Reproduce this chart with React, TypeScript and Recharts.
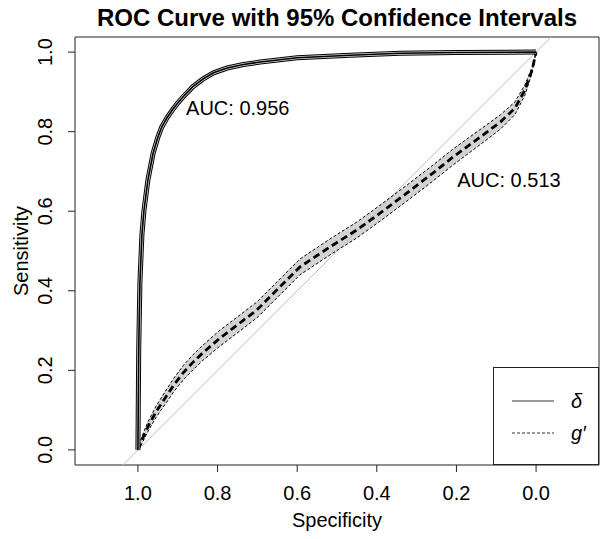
import React from "react"
import {
  ComposedChart,
  Line,
  Area,
  XAxis,
  YAxis,
  ReferenceLine,
  ReferenceArea,
  ReferenceDot,
  Label,
} from "recharts"

// axis setup (specificity runs 1 -> 0)
const SPEC_TICKS = [1, 0.8, 0.6, 0.4, 0.2, 0]
const SENS_TICKS = [0, 0.2, 0.4, 0.6, 0.8, 1]
const X_DOMAIN = [-0.158, 1.158]
const Y_DOMAIN = [-0.038, 1.038]

// delta: AUC 0.956
const DELTA_SPEC = [1.0, 0.998, 0.995, 0.99, 0.985, 0.975, 0.962, 0.95, 0.94, 0.927, 0.913, 0.9, 0.887, 0.862, 0.837, 0.81, 0.776, 0.735, 0.693, 0.6, 0.467, 0.342, 0.2, 0.0]
const DELTA_SENS = [0, 0.25, 0.42, 0.54, 0.6, 0.678, 0.745, 0.786, 0.812, 0.835, 0.855, 0.872, 0.887, 0.913, 0.932, 0.948, 0.96, 0.969, 0.975, 0.986, 0.992, 0.997, 0.999, 1.0]

// g': AUC 0.513, with 95% CI band
const G_SPEC = [1.0, 0.995, 0.985, 0.975, 0.955, 0.932, 0.91, 0.887, 0.862, 0.837, 0.794, 0.744, 0.701, 0.643, 0.593, 0.518, 0.45, 0.392, 0.324, 0.259, 0.209, 0.141, 0.09, 0.053, 0.028, 0.01, 0]
const G_SENS = [0, 0.012, 0.036, 0.058, 0.095, 0.13, 0.163, 0.193, 0.22, 0.244, 0.281, 0.319, 0.352, 0.41, 0.46, 0.51, 0.553, 0.595, 0.646, 0.696, 0.736, 0.786, 0.824, 0.859, 0.905, 0.955, 1.0]
const G_LO = [0, 0.006, 0.026, 0.046, 0.081, 0.114, 0.146, 0.175, 0.201, 0.225, 0.261, 0.299, 0.332, 0.39, 0.44, 0.49, 0.533, 0.575, 0.626, 0.676, 0.716, 0.767, 0.806, 0.843, 0.892, 0.948, 1.0]
const G_HI = [0, 0.018, 0.046, 0.07, 0.109, 0.146, 0.18, 0.211, 0.239, 0.263, 0.301, 0.339, 0.372, 0.43, 0.48, 0.53, 0.573, 0.615, 0.666, 0.716, 0.756, 0.805, 0.842, 0.875, 0.918, 0.962, 1.0]

const AUC_LABELS = [
  { spec: 0.879, sens: 0.859, text: "AUC: 0.956" },
  { spec: 0.198, sens: 0.678, text: "AUC: 0.513" },
]

const LEGEND_ITEMS = [
  { label: "δ", dash: undefined },
  { label: "g′", dash: "3 2" },
]

const FONT = "'Liberation Sans', Arial, Helvetica, sans-serif"

const deltaData = DELTA_SPEC.map((spec, i) => ({ spec, sens: DELTA_SENS[i] }))
const gData = G_SPEC.map((spec, i) => ({ spec, sens: G_SENS[i], lo: G_LO[i], hi: G_HI[i] }))

const XTick = ({ x, y, payload }: any) => (
  <text x={x} y={y + 26} textAnchor="middle" fontSize={20} fontFamily={FONT} fill="#000">
    {payload.value.toFixed(1)}
  </text>
)

const YTick = ({ x, y, payload }: any) => {
  const bx = x - 14
  return (
    <text x={bx} y={y} transform={`rotate(-90 ${bx} ${y})`} textAnchor="middle" fontSize={20} fontFamily={FONT} fill="#000">
      {payload.value.toFixed(1)}
    </text>
  )
}

const aucLabel = (text: string) => (props: any) => {
  const { viewBox } = props
  return (
    <text x={viewBox.x} y={viewBox.y + 7} fontSize={20} fontFamily={FONT} fill="#000">
      {text}
    </text>
  )
}

const LegendBox = () => (
  <svg width={106} height={98} style={{ position: "absolute", left: 493, top: 367 }}>
    <rect x={0.5} y={0.5} width={105} height={97} fill="#fff" stroke="#222" />
    {LEGEND_ITEMS.map((item, i) => (
      <g key={item.label}>
        <line x1={19} x2={61} y1={34 + i * 32} y2={34 + i * 32} stroke="#333" strokeWidth={1} strokeDasharray={item.dash} />
        <text x={78} y={41 + i * 32} fontSize={20} fontStyle="italic" fontFamily={FONT} fill="#000">
          {item.label}
        </text>
      </g>
    ))}
  </svg>
)

export default function App() {
  return (
    <div style={{ position: "absolute", left: 0, top: 0, width: 615, height: 539, background: "#fff" }}>
      <div
        style={{
          position: "absolute",
          left: 75,
          width: 524,
          top: 4,
          textAlign: "center",
          fontFamily: FONT,
          fontWeight: "bold",
          fontSize: 24,
          lineHeight: "28px",
        }}
      >
        ROC Curve with 95% Confidence Intervals
      </div>
      <ComposedChart
        width={615}
        height={539}
        data={gData}
        margin={{ top: 37, right: 16, bottom: 0, left: 0 }}
      >
        <XAxis
          dataKey="spec"
          type="number"
          domain={X_DOMAIN}
          reversed
          allowDataOverflow
          ticks={SPEC_TICKS}
          interval={0}
          height={74}
          axisLine={false}
          tickSize={7}
          tickLine={{ stroke: "#222" }}
          tick={<XTick />}
        >
          <Label
            content={() => (
              <text x={337} y={527} textAnchor="middle" fontSize={20} fontFamily={FONT} fill="#000">
                Specificity
              </text>
            )}
          />
        </XAxis>
        <YAxis
          type="number"
          domain={Y_DOMAIN}
          allowDataOverflow
          ticks={SENS_TICKS}
          interval={0}
          width={75}
          axisLine={false}
          tickSize={7}
          tickLine={{ stroke: "#222" }}
          tick={<YTick />}
        >
          <Label
            content={() => (
              <text x={28} y={251} transform="rotate(-90 28 251)" textAnchor="middle" fontSize={20} fontFamily={FONT} fill="#000">
                Sensitivity
              </text>
            )}
          />
        </YAxis>

        <ReferenceLine
          segment={[
            { x: 1 - Y_DOMAIN[0], y: Y_DOMAIN[0] },
            { x: 1 - Y_DOMAIN[1], y: Y_DOMAIN[1] },
          ]}
          stroke="#bebebe"
          strokeWidth={1}
          ifOverflow="visible"
        />

        <Area
          type="linear"
          dataKey={(d: any) => [d.lo, d.hi]}
          fill="#d3d3d3"
          fillOpacity={1}
          stroke="none"
          isAnimationActive={false}
        />
        <Line type="linear" dataKey="lo" stroke="#000" strokeWidth={1} strokeDasharray="3 2" dot={false} activeDot={false} isAnimationActive={false} />
        <Line type="linear" dataKey="hi" stroke="#000" strokeWidth={1} strokeDasharray="3 2" dot={false} activeDot={false} isAnimationActive={false} />
        <Line type="linear" dataKey="sens" stroke="#000" strokeWidth={2.8} strokeDasharray="7 4" dot={false} activeDot={false} isAnimationActive={false} />

        <Line data={deltaData} type="linear" dataKey="sens" stroke="#000" strokeWidth={5} dot={false} activeDot={false} isAnimationActive={false} />
        <Line data={deltaData} type="linear" dataKey="sens" stroke="#d9d9d9" strokeWidth={3} dot={false} activeDot={false} isAnimationActive={false} />
        <Line data={deltaData} type="linear" dataKey="sens" stroke="#000" strokeWidth={1.6} dot={false} activeDot={false} isAnimationActive={false} />

        {AUC_LABELS.map((a) => (
          <ReferenceDot key={a.text} x={a.spec} y={a.sens} r={0} fill="none" stroke="none" label={aucLabel(a.text)} />
        ))}

        <ReferenceArea
          x1={X_DOMAIN[0]}
          x2={X_DOMAIN[1]}
          y1={Y_DOMAIN[0]}
          y2={Y_DOMAIN[1]}
          fill="none"
          stroke="#222"
          strokeWidth={1}
          ifOverflow="visible"
        />
      </ComposedChart>
      <LegendBox />
    </div>
  )
}
